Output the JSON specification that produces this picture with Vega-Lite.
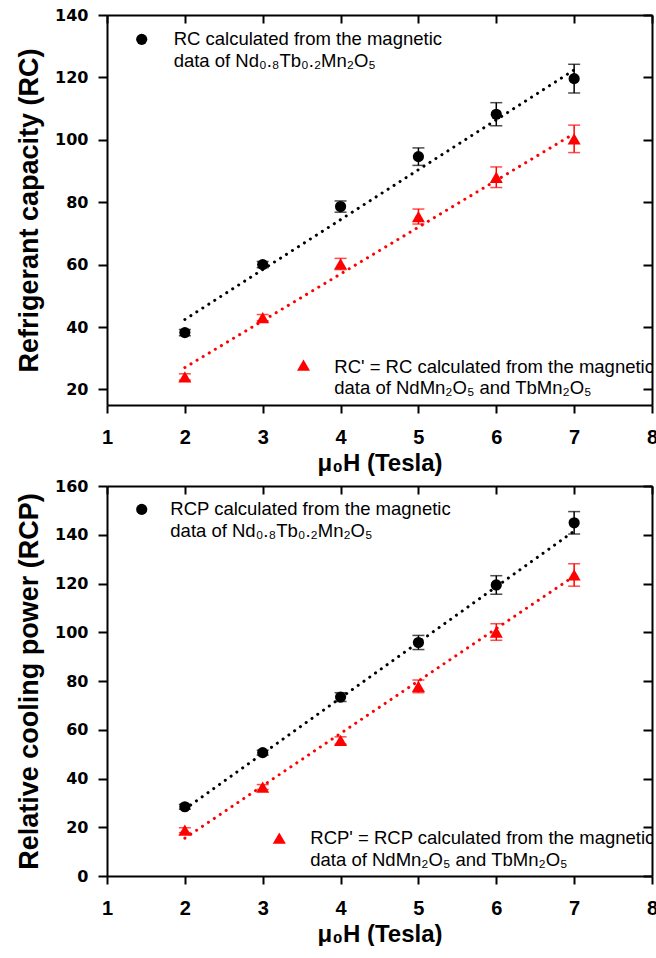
{
  "$schema": "https://vega.github.io/schema/vega-lite/v6.json",
  "padding": {"left": 15, "top": 7, "right": 0, "bottom": 0},
  "background": "white",
  "spacing": 3,
  "config": {
    "view": {"stroke": null},
    "axis": {"grid": false, "domainColor": "#000000", "domainWidth": 2, "tickColor": "#000000", "tickWidth": 2, "labelColor": "#000000", "titleColor": "#000000", "labelFlush": false, "labelOverlap": false}
  },
  "datasets": {
    "rc": [
      {"H": 2, "v": 38.2, "lo": 37.2, "hi": 39.2, "s": "A"},
      {"H": 3, "v": 60.0, "lo": 59.0, "hi": 61.0, "s": "A"},
      {"H": 4, "v": 78.6, "lo": 76.8, "hi": 80.4, "s": "A"},
      {"H": 5, "v": 94.6, "lo": 91.8, "hi": 97.4, "s": "A"},
      {"H": 6, "v": 108.2, "lo": 104.5, "hi": 111.9, "s": "A"},
      {"H": 7, "v": 119.6, "lo": 115.0, "hi": 124.2, "s": "A"},
      {"H": 2, "v": 24.0, "lo": 23.0, "hi": 25.0, "s": "B"},
      {"H": 3, "v": 43.0, "lo": 42.0, "hi": 44.0, "s": "B"},
      {"H": 4, "v": 60.2, "lo": 58.4, "hi": 62.0, "s": "B"},
      {"H": 5, "v": 75.4, "lo": 73.0, "hi": 77.8, "s": "B"},
      {"H": 6, "v": 88.0, "lo": 84.7, "hi": 91.3, "s": "B"},
      {"H": 7, "v": 100.3, "lo": 95.9, "hi": 104.7, "s": "B"}
    ],
    "rcFit": [
      {"H": 2, "v": 42.4, "s": "A"},
      {"H": 7, "v": 122.4, "s": "A"},
      {"H": 2, "v": 27.0, "s": "B"},
      {"H": 7, "v": 102.0, "s": "B"}
    ],
    "rcLegSym": [
      {"H": 1.446, "v": 132.2, "s": "A"},
      {"H": 3.524, "v": 27.8, "s": "B"}
    ],
    "rcLegText": [
      {"H": 1.856, "v": 132.2, "t": "RC calculated from the magnetic"},
      {"H": 1.856, "v": 125.3, "t": "data of Nd₀.₈Tb₀.₂Mn₂O₅"},
      {"H": 3.919, "v": 27.1, "t": "RC' = RC calculated from the magnetic"},
      {"H": 3.919, "v": 20.5, "t": "data of NdMn₂O₅ and TbMn₂O₅"}
    ],
    "rcp": [
      {"H": 2, "v": 28.4, "lo": 27.4, "hi": 29.4, "s": "A"},
      {"H": 3, "v": 50.6, "lo": 49.6, "hi": 51.6, "s": "A"},
      {"H": 4, "v": 73.4, "lo": 71.6, "hi": 75.2, "s": "A"},
      {"H": 5, "v": 95.8, "lo": 92.9, "hi": 98.7, "s": "A"},
      {"H": 6, "v": 119.4, "lo": 115.6, "hi": 123.2, "s": "A"},
      {"H": 7, "v": 144.9, "lo": 140.3, "hi": 149.5, "s": "A"},
      {"H": 2, "v": 18.8, "lo": 17.8, "hi": 19.8, "s": "B"},
      {"H": 3, "v": 36.5, "lo": 35.5, "hi": 37.5, "s": "B"},
      {"H": 4, "v": 55.6, "lo": 54.1, "hi": 57.1, "s": "B"},
      {"H": 5, "v": 77.8, "lo": 75.2, "hi": 80.4, "s": "B"},
      {"H": 6, "v": 100.1, "lo": 96.7, "hi": 103.5, "s": "B"},
      {"H": 7, "v": 123.5, "lo": 118.9, "hi": 128.1, "s": "B"}
    ],
    "rcpFit": [
      {"H": 2, "v": 27.4, "s": "A"},
      {"H": 7, "v": 141.5, "s": "A"},
      {"H": 2, "v": 15.5, "s": "B"},
      {"H": 7, "v": 123.0, "s": "B"}
    ],
    "rcpLegSym": [
      {"H": 1.446, "v": 150.4, "s": "A"},
      {"H": 3.213, "v": 15.5, "s": "B"}
    ],
    "rcpLegText": [
      {"H": 1.813, "v": 150.5, "t": "RCP calculated from the magnetic"},
      {"H": 1.813, "v": 141.6, "t": "data of Nd₀.₈Tb₀.₂Mn₂O₅"},
      {"H": 3.611, "v": 15.5, "t": "RCP' = RCP calculated from the magnetic"},
      {"H": 3.611, "v": 6.6, "t": "data of NdMn₂O₅ and TbMn₂O₅"}
    ]
  },
  "vconcat": [
    {
      "width": 545,
      "height": 390,
      "layer": [
        {
          "layer": [
            {
              "data": {"name": "rcFit"},
              "mark": {"type": "line", "strokeWidth": 3, "strokeDash": [0.1, 7], "strokeCap": "round"},
              "encoding": {
                "x": {"field": "H", "type": "quantitative", "scale": {"domain": [1, 8], "nice": false, "zero": false},
                  "axis": {"values": [1, 2, 3, 4, 5, 6, 7, 8], "format": "d", "tickSize": 8, "labelPadding": 14, "labelFont": "Liberation Sans", "labelFontSize": 20, "labelFontWeight": "bold", "title": "μ₀H (Tesla)", "titleFont": "Liberation Sans", "titleFontSize": 24, "titleFontWeight": "bold", "titlePadding": 4}},
                "y": {"field": "v", "type": "quantitative", "scale": {"domain": [15, 140], "nice": false, "zero": false},
                  "axis": {"values": [20, 40, 60, 80, 100, 120, 140], "tickSize": 9, "labelPadding": 10, "labelFont": "DejaVu Sans", "labelFontSize": 16, "labelFontWeight": "bold", "title": "Refrigerant capacity (RC)", "titleFont": "Liberation Sans", "titleFontSize": 27, "titleFontWeight": "bold", "titlePadding": 11}},
                "color": {"field": "s", "type": "nominal", "scale": {"domain": ["A", "B"], "range": ["#000000", "#ff0000"]}, "legend": null},
                "detail": {"field": "s"}
              }
            },
            {
              "data": {"name": "rc"},
              "mark": {"type": "rule", "strokeWidth": 1.5},
              "encoding": {
                "x": {"field": "H", "type": "quantitative"},
                "y": {"field": "lo", "type": "quantitative"},
                "y2": {"field": "hi"},
                "color": {"field": "s", "type": "nominal", "legend": null}
              }
            },
            {
              "data": {"name": "rc"},
              "mark": {"type": "tick", "orient": "horizontal", "size": 12, "thickness": 1.5},
              "encoding": {
                "x": {"field": "H", "type": "quantitative"},
                "y": {"field": "lo", "type": "quantitative"},
                "color": {"field": "s", "type": "nominal", "legend": null}
              }
            },
            {
              "data": {"name": "rc"},
              "mark": {"type": "tick", "orient": "horizontal", "size": 12, "thickness": 1.5},
              "encoding": {
                "x": {"field": "H", "type": "quantitative"},
                "y": {"field": "hi", "type": "quantitative"},
                "color": {"field": "s", "type": "nominal", "legend": null}
              }
            },
            {
              "data": {"name": "rc"},
              "transform": [{"filter": "datum.s == 'A'"}],
              "mark": {"type": "point", "shape": "circle", "filled": true, "opacity": 1, "size": 125},
              "encoding": {
                "x": {"field": "H", "type": "quantitative"},
                "y": {"field": "v", "type": "quantitative"},
                "color": {"field": "s", "type": "nominal", "legend": null}
              }
            },
            {
              "data": {"name": "rc"},
              "transform": [{"filter": "datum.s == 'B'"}],
              "mark": {"type": "point", "shape": "triangle-up", "filled": true, "opacity": 1, "size": 170},
              "encoding": {
                "x": {"field": "H", "type": "quantitative"},
                "y": {"field": "v", "type": "quantitative"},
                "color": {"field": "s", "type": "nominal", "legend": null}
              }
            },
            {
              "data": {"name": "rcLegSym"},
              "transform": [{"filter": "datum.s == 'A'"}],
              "mark": {"type": "point", "shape": "circle", "filled": true, "opacity": 1, "size": 125},
              "encoding": {
                "x": {"field": "H", "type": "quantitative"},
                "y": {"field": "v", "type": "quantitative"},
                "color": {"field": "s", "type": "nominal", "legend": null}
              }
            },
            {
              "data": {"name": "rcLegSym"},
              "transform": [{"filter": "datum.s == 'B'"}],
              "mark": {"type": "point", "shape": "triangle-up", "filled": true, "opacity": 1, "size": 170},
              "encoding": {
                "x": {"field": "H", "type": "quantitative"},
                "y": {"field": "v", "type": "quantitative"},
                "color": {"field": "s", "type": "nominal", "legend": null}
              }
            },
            {
              "data": {"name": "rcLegText"},
              "mark": {"type": "text", "align": "left", "baseline": "middle", "font": "Liberation Sans", "fontSize": 18.5, "color": "#000000", "clip": true},
              "encoding": {
                "x": {"field": "H", "type": "quantitative"},
                "y": {"field": "v", "type": "quantitative"},
                "text": {"field": "t"}
              }
            }
          ]
        },
        {
          "data": {"name": "rc"},
          "mark": {"type": "point", "opacity": 0},
          "encoding": {
            "x": {"field": "H", "type": "quantitative", "axis": {"orient": "top", "values": [1, 2, 3, 4, 5, 6, 7, 8], "tickSize": -8, "labels": false, "title": null}},
            "y": {"field": "v", "type": "quantitative", "axis": {"orient": "right", "values": [20, 40, 60, 80, 100, 120, 140], "tickSize": -9, "labels": false, "title": null}}
          }
        }
      ],
      "resolve": {"axis": {"x": "independent", "y": "independent"}}
    },
    {
      "width": 545,
      "height": 390,
      "layer": [
        {
          "layer": [
            {
              "data": {"name": "rcpFit"},
              "mark": {"type": "line", "strokeWidth": 3, "strokeDash": [0.1, 7], "strokeCap": "round"},
              "encoding": {
                "x": {"field": "H", "type": "quantitative", "scale": {"domain": [1, 8], "nice": false, "zero": false},
                  "axis": {"values": [1, 2, 3, 4, 5, 6, 7, 8], "format": "d", "tickSize": 8, "labelPadding": 14, "labelFont": "Liberation Sans", "labelFontSize": 20, "labelFontWeight": "bold", "title": "μ₀H (Tesla)", "titleFont": "Liberation Sans", "titleFontSize": 24, "titleFontWeight": "bold", "titlePadding": 4}},
                "y": {"field": "v", "type": "quantitative", "scale": {"domain": [0, 160], "nice": false},
                  "axis": {"values": [0, 20, 40, 60, 80, 100, 120, 140, 160], "tickSize": 9, "labelPadding": 10, "labelFont": "DejaVu Sans", "labelFontSize": 16, "labelFontWeight": "bold", "title": "Relative cooling power (RCP)", "titleFont": "Liberation Sans", "titleFontSize": 27, "titleFontWeight": "bold", "titlePadding": 11}},
                "color": {"field": "s", "type": "nominal", "scale": {"domain": ["A", "B"], "range": ["#000000", "#ff0000"]}, "legend": null},
                "detail": {"field": "s"}
              }
            },
            {
              "data": {"name": "rcp"},
              "mark": {"type": "rule", "strokeWidth": 1.5},
              "encoding": {
                "x": {"field": "H", "type": "quantitative"},
                "y": {"field": "lo", "type": "quantitative"},
                "y2": {"field": "hi"},
                "color": {"field": "s", "type": "nominal", "legend": null}
              }
            },
            {
              "data": {"name": "rcp"},
              "mark": {"type": "tick", "orient": "horizontal", "size": 12, "thickness": 1.5},
              "encoding": {
                "x": {"field": "H", "type": "quantitative"},
                "y": {"field": "lo", "type": "quantitative"},
                "color": {"field": "s", "type": "nominal", "legend": null}
              }
            },
            {
              "data": {"name": "rcp"},
              "mark": {"type": "tick", "orient": "horizontal", "size": 12, "thickness": 1.5},
              "encoding": {
                "x": {"field": "H", "type": "quantitative"},
                "y": {"field": "hi", "type": "quantitative"},
                "color": {"field": "s", "type": "nominal", "legend": null}
              }
            },
            {
              "data": {"name": "rcp"},
              "transform": [{"filter": "datum.s == 'A'"}],
              "mark": {"type": "point", "shape": "circle", "filled": true, "opacity": 1, "size": 125},
              "encoding": {
                "x": {"field": "H", "type": "quantitative"},
                "y": {"field": "v", "type": "quantitative"},
                "color": {"field": "s", "type": "nominal", "legend": null}
              }
            },
            {
              "data": {"name": "rcp"},
              "transform": [{"filter": "datum.s == 'B'"}],
              "mark": {"type": "point", "shape": "triangle-up", "filled": true, "opacity": 1, "size": 170},
              "encoding": {
                "x": {"field": "H", "type": "quantitative"},
                "y": {"field": "v", "type": "quantitative"},
                "color": {"field": "s", "type": "nominal", "legend": null}
              }
            },
            {
              "data": {"name": "rcpLegSym"},
              "transform": [{"filter": "datum.s == 'A'"}],
              "mark": {"type": "point", "shape": "circle", "filled": true, "opacity": 1, "size": 125},
              "encoding": {
                "x": {"field": "H", "type": "quantitative"},
                "y": {"field": "v", "type": "quantitative"},
                "color": {"field": "s", "type": "nominal", "legend": null}
              }
            },
            {
              "data": {"name": "rcpLegSym"},
              "transform": [{"filter": "datum.s == 'B'"}],
              "mark": {"type": "point", "shape": "triangle-up", "filled": true, "opacity": 1, "size": 170},
              "encoding": {
                "x": {"field": "H", "type": "quantitative"},
                "y": {"field": "v", "type": "quantitative"},
                "color": {"field": "s", "type": "nominal", "legend": null}
              }
            },
            {
              "data": {"name": "rcpLegText"},
              "mark": {"type": "text", "align": "left", "baseline": "middle", "font": "Liberation Sans", "fontSize": 18.5, "color": "#000000", "clip": true},
              "encoding": {
                "x": {"field": "H", "type": "quantitative"},
                "y": {"field": "v", "type": "quantitative"},
                "text": {"field": "t"}
              }
            }
          ]
        },
        {
          "data": {"name": "rcp"},
          "mark": {"type": "point", "opacity": 0},
          "encoding": {
            "x": {"field": "H", "type": "quantitative", "axis": {"orient": "top", "values": [1, 2, 3, 4, 5, 6, 7, 8], "tickSize": -8, "labels": false, "title": null}},
            "y": {"field": "v", "type": "quantitative", "axis": {"orient": "right", "values": [0, 20, 40, 60, 80, 100, 120, 140, 160], "tickSize": -9, "labels": false, "title": null}}
          }
        }
      ],
      "resolve": {"axis": {"x": "independent", "y": "independent"}}
    }
  ]
}
